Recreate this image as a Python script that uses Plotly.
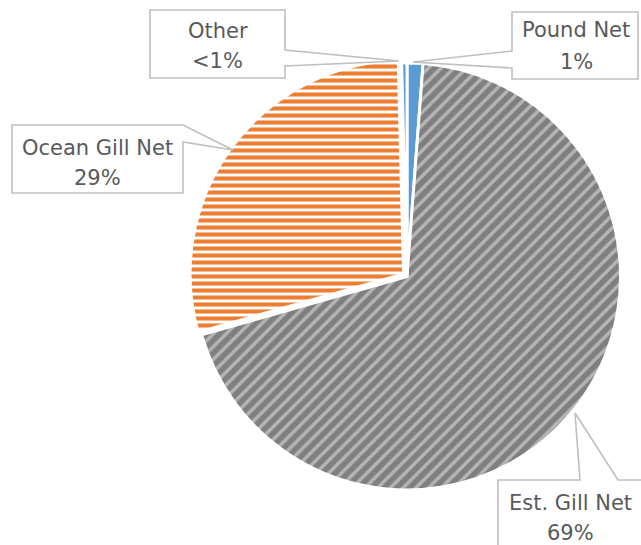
import plotly.graph_objects as go

# Catch share by gear type (percent)
gears = ["Pound Net", "Est. Gill Net", "Ocean Gill Net", "Other"]
shares = [1.2, 69.4, 29.0, 0.4]

W, H = 641, 545
TEXT = "#595959"
EDGE = "#BFBFBF"
FONT = "DejaVu Sans"


def px(x):
    return x / W


def py(y):
    return 1 - y / H


def pct_text(v):
    return "<1%" if v < 1 else f"{round(v)}%"


# pie placement in pixels
cx, cy, r, pull = 407, 276.5, 213.5, 0.02
half = r * (1 + pull)

pie = go.Pie(
    labels=gears,
    values=shares,
    sort=False,
    direction="clockwise",
    rotation=0,
    textinfo="none",
    hoverinfo="label+percent",
    pull=[0, 0, pull, 0],
    domain=dict(x=[px(cx - half), px(cx + half)], y=[py(cy + half), py(cy - half)]),
    marker=dict(
        colors=["#5B9BD5", "#808080", "#FFFFFF", "#5B9BD5"],
        line=dict(color="white", width=3),
        pattern=dict(
            shape=["", "/", "-", ""],
            fillmode="replace",
            bgcolor=["#5B9BD5", "#7F7F7F", "#FFFFFF", "#5B9BD5"],
            fgcolor=["#5B9BD5", "#B5B5B5", "#ED7D31", "#5B9BD5"],
            size=[8, 9, 7, 8],
            solidity=[0.3, 0.38, 0.58, 0.3],
        ),
    ),
    showlegend=False,
)

fig = go.Figure(pie)

# callout boxes (pixel outlines with pointer) and their two text lines, keyed by gear
callouts = {
    "Other": dict(path=[(150, 10), (285, 10), (285, 50), (399, 61), (285, 66), (285, 78), (150, 78)],
                  cx=217.5, lines=(29.5, 59.5)),
    "Pound Net": dict(path=[(512, 12), (638, 12), (638, 79), (512, 79), (512, 68), (413, 62), (512, 51)],
                      cx=576, lines=(28.5, 60.5)),
    "Ocean Gill Net": dict(path=[(12, 125), (183, 125), (233, 150), (183, 142), (183, 193), (12, 193)],
                           cx=97.5, lines=(146.5, 176.5)),
    "Est. Gill Net": dict(path=[(498, 480), (580, 480), (575, 413), (618, 480), (646, 480), (646, 552), (498, 552)],
                          cx=570, lines=(501.5, 531.5)),
}

shapes = []
annotations = []
for gear, share in zip(gears, shares):
    c = callouts[gear]
    d = "M " + " L ".join(f"{px(x):.5f},{py(y):.5f}" for x, y in c["path"]) + " Z"
    shapes.append(dict(type="path", xref="paper", yref="paper", path=d,
                       fillcolor="white", line=dict(color=EDGE, width=1.6), layer="above"))
    for txt, yy in zip((gear, pct_text(share)), c["lines"]):
        annotations.append(dict(
            x=px(c["cx"]), y=py(yy + 1.5), xref="paper", yref="paper",
            text=txt, showarrow=False, xanchor="center", yanchor="middle",
            font=dict(family=FONT, size=21, color=TEXT),
        ))

fig.update_layout(
    width=W, height=H,
    margin=dict(l=0, r=0, t=0, b=0),
    paper_bgcolor="white",
    plot_bgcolor="white",
    shapes=shapes,
    annotations=annotations,
)

fig.write_html("out.html")
